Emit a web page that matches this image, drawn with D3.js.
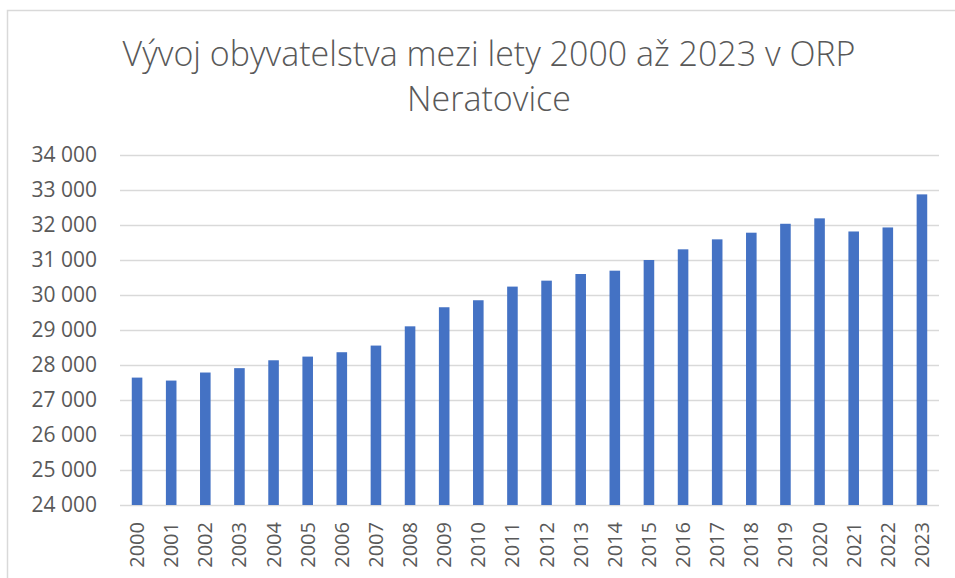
<!DOCTYPE html>
<html>
<head>
<meta charset="utf-8">
<script src="https://cdn.jsdelivr.net/npm/d3@7"></script>
<style>
  body { margin: 0; background: #fff; }
  svg text { font-family: "Open Sans", "Liberation Sans", sans-serif; fill: #595959; }
</style>
</head>
<body>
<div id="chart"></div>
<script>
// chart data
var years = ['2000', '2001', '2002', '2003', '2004', '2005', '2006', '2007', '2008', '2009',
    '2010', '2011', '2012', '2013', '2014', '2015', '2016', '2017', '2018', '2019',
    '2020', '2021', '2022', '2023'];
var population = [27640, 27555, 27785, 27910, 28135, 28240, 28365, 28555, 29105, 29650,
    29850, 30240, 30410, 30600, 30695, 31000, 31305, 31590, 31780, 32035,
    32190, 31815, 31930, 32875];
var yTicks = [24000, 25000, 26000, 27000, 28000, 29000, 30000, 31000, 32000, 33000, 34000];
var titleLines = ['Vývoj obyvatelstva mezi lety 2000 až 2023 v ORP', 'Neratovice'];

var width = 955, height = 578;
var plot = { left: 120, right: 939, top: 155, bottom: 505 };

var svg = d3.select('#chart').append('svg')
    .attr('width', width)
    .attr('height', height);

// chart frame (only top and left edges are visible in the crop)
svg.append('path')
    .attr('d', 'M7.5,' + height + 'V10.5H' + width)
    .attr('fill', 'none')
    .attr('stroke', '#d9d9d9')
    .attr('stroke-width', 1.5);

var x = d3.scaleBand()
    .domain(years)
    .range([plot.left, plot.right])
    .paddingInner(0.69)
    .paddingOuter(0.345);

var y = d3.scaleLinear()
    .domain([24000, 34000])
    .range([plot.bottom, plot.top]);

var fmt = function (v) {
    return d3.format(',')(v).replace(/,/g, ' ');
};

// gridlines + y labels
var yAxis = d3.axisLeft(y)
    .tickValues(yTicks)
    .tickSize(-(plot.right - plot.left))
    .tickPadding(23)
    .tickFormat(fmt);

var gy = svg.append('g')
    .attr('transform', 'translate(' + plot.left + ',0)')
    .call(yAxis);
gy.select('.domain').remove();
gy.selectAll('.tick line')
    .attr('stroke', '#d9d9d9')
    .attr('stroke-width', 1.5);
gy.selectAll('.tick text')
    .style('font-size', '21px')
    .attr('fill', '#595959');

// bars
svg.append('g')
    .selectAll('rect')
    .data(population)
    .enter()
    .append('rect')
    .attr('x', function (d, i) { return x(years[i]); })
    .attr('width', x.bandwidth())
    .attr('y', function (d) { return y(d); })
    .attr('height', function (d) { return y(24000) - y(d); })
    .attr('fill', '#4472c4');

// x labels, rotated
var gx = svg.append('g')
    .attr('transform', 'translate(0,' + plot.bottom + ')')
    .call(d3.axisBottom(x).tickSize(0).tickPadding(0));
gx.select('.domain').remove();
gx.selectAll('.tick text')
    .attr('transform', 'translate(0,17) rotate(-90)')
    .attr('x', 0)
    .attr('y', 0)
    .attr('dy', '0.35em')
    .attr('text-anchor', 'end')
    .style('font-size', '20px')
    .attr('fill', '#595959');

// title
var title = svg.append('g').attr('class', 'title');
title.selectAll('text')
    .data(titleLines)
    .enter()
    .append('text')
    .attr('x', 489)
    .attr('y', function (d, i) { return 66 + i * 45; })
    .attr('text-anchor', 'middle')
    .style('font-size', '30px')
    .style('font-weight', 300)
    .text(function (d) { return d; });

// squeeze first line to the width seen in the reference
var t0 = title.select('text').node();
var w0 = t0.getComputedTextLength();
var fs = 30 * 733 / w0;
title.selectAll('text').style('font-size', fs + 'px');
</script>
</body>
</html>
